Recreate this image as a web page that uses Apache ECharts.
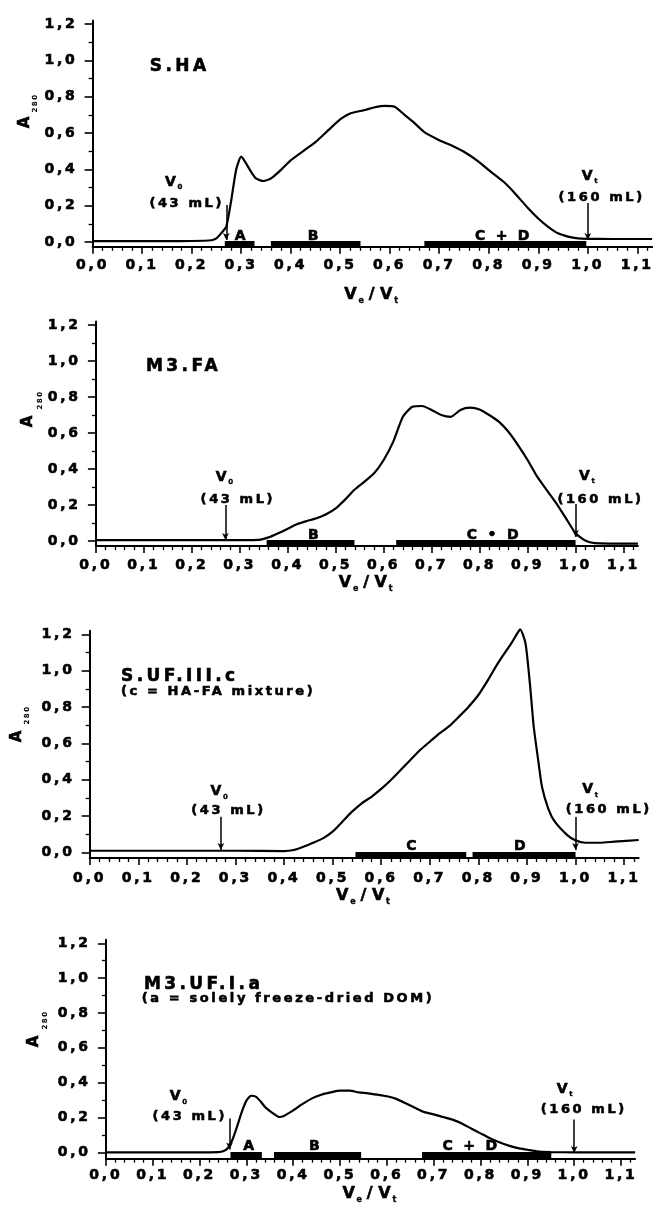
<!DOCTYPE html>
<html><head><meta charset="utf-8">
<script src="https://cdn.jsdelivr.net/npm/echarts@6/dist/echarts.min.js"></script>
<style>html,body{margin:0;padding:0;background:#fff}#c{width:653px;height:1205px}</style>
</head><body><div id="c"></div>
<script>
// ---------- DATA ----------
const xTickValues = [0, 0.1, 0.2, 0.3, 0.4, 0.5, 0.6, 0.7, 0.8, 0.9, 1.0, 1.1];
const xTickLabels = ['0,0','0,1','0,2','0,3','0,4','0,5','0,6','0,7','0,8','0,9','1,0','1,1'];
const yTickValues = [0, 0.2, 0.4, 0.6, 0.8, 1.0, 1.2];
const yTickLabels = ['0,0','0,2','0,4','0,6','0,8','1,0','1,2'];
const yMinorValues = [0.1, 0.3, 0.5, 0.7, 0.9, 1.1];

// Panel 1: S.HA
const shaX = [0,0.05,0.10,0.15,0.20,0.24,0.25,0.26,0.27,0.28,0.29,0.30,0.31,0.32,0.33,0.345,0.36,0.38,0.40,0.43,0.45,0.48,0.50,0.52,0.55,0.57,0.59,0.61,0.63,0.65,0.67,0.70,0.73,0.75,0.78,0.80,0.83,0.85,0.88,0.90,0.92,0.94,0.96,0.98,1.00,1.05,1.13];
const shaY = [0.005,0.005,0.005,0.005,0.006,0.01,0.02,0.05,0.085,0.23,0.40,0.47,0.433,0.387,0.35,0.336,0.35,0.396,0.45,0.51,0.55,0.626,0.675,0.708,0.727,0.742,0.75,0.745,0.70,0.655,0.605,0.561,0.525,0.497,0.442,0.396,0.332,0.277,0.185,0.13,0.084,0.048,0.03,0.02,0.018,0.017,0.017];
// Panel 2: M3.FA
const m3faX = [0,0.1,0.2,0.3,0.34,0.36,0.38,0.40,0.42,0.44,0.46,0.48,0.50,0.52,0.54,0.56,0.58,0.60,0.62,0.64,0.66,0.68,0.70,0.72,0.74,0.76,0.78,0.80,0.82,0.84,0.86,0.88,0.90,0.92,0.94,0.96,0.98,1.00,1.02,1.04,1.13];
const m3faY = [0.005,0.005,0.005,0.005,0.006,0.02,0.043,0.068,0.094,0.111,0.126,0.148,0.181,0.231,0.287,0.33,0.376,0.45,0.552,0.69,0.746,0.75,0.728,0.70,0.69,0.728,0.741,0.731,0.70,0.663,0.607,0.533,0.45,0.357,0.283,0.209,0.126,0.043,0.002,-0.012,-0.015];
// Panel 3: S.UF.III.c
const sufX = [0,0.1,0.2,0.3,0.40,0.42,0.44,0.46,0.48,0.50,0.52,0.54,0.56,0.58,0.60,0.62,0.64,0.66,0.68,0.70,0.72,0.74,0.76,0.78,0.80,0.82,0.84,0.86,0.87,0.88,0.886,0.897,0.906,0.914,0.923,0.931,0.944,0.957,0.983,1.00,1.02,1.05,1.08,1.13];
const sufY = [0.009,0.009,0.009,0.009,0.007,0.013,0.031,0.053,0.077,0.114,0.169,0.224,0.27,0.306,0.349,0.398,0.453,0.508,0.563,0.609,0.655,0.695,0.747,0.802,0.866,0.949,1.04,1.12,1.16,1.205,1.228,1.15,0.93,0.69,0.51,0.36,0.24,0.17,0.095,0.066,0.053,0.053,0.059,0.068];
// Panel 4: M3.UF.I.a
const m3ufX = [0,0.1,0.2,0.24,0.25,0.26,0.27,0.28,0.29,0.30,0.31,0.32,0.33,0.34,0.36,0.37,0.38,0.40,0.42,0.44,0.46,0.48,0.50,0.52,0.54,0.56,0.58,0.60,0.62,0.64,0.66,0.68,0.70,0.72,0.74,0.76,0.78,0.80,0.82,0.84,0.86,0.88,0.90,0.92,0.95,1.00,1.13];
const m3ufY = [0,0,0,0.002,0.006,0.024,0.071,0.147,0.231,0.297,0.325,0.32,0.293,0.26,0.218,0.203,0.209,0.241,0.278,0.31,0.331,0.344,0.354,0.354,0.344,0.339,0.331,0.322,0.307,0.282,0.256,0.231,0.218,0.203,0.188,0.166,0.137,0.109,0.081,0.058,0.039,0.024,0.015,0.006,0.002,0,0];

// Fractions (bars along the baseline)
const frac1Names = ['A','B','C + D'];      const frac1Start = [0.267,0.36,0.67];   const frac1End = [0.327,0.541,0.997]; const frac1LabelX = [0.301,0.448,0.830];
const frac2Names = ['B','C \u2022 D'];     const frac2Start = [0.356,0.626];       const frac2End = [0.539,1.0];         const frac2LabelX = [0.456,0.83];
const frac3Names = ['C','D'];              const frac3Start = [0.547,0.788];       const frac3End = [0.775,1.0];         const frac3LabelX = [0.665,0.888];
const frac4Names = ['A','B','C + D'];      const frac4Start = [0.266,0.359,0.675]; const frac4End = [0.333,0.545,0.951]; const frac4LabelX = [0.308,0.448,0.78];

const titles = ['S.HA', 'M3.FA', 'S.UF.III.c', 'M3.UF.I.a'];
const subtitles = ['', '', '(c = HA-FA mixture)', '(a = solely freeze-dried DOM)'];
const v0Text = '(43 mL)';
const vtText = '(160 mL)';
const v0Pos = [0.27, 0.27, 0.27, 0.264];   // V0 marker on Ve/Vt axis
const vtPos = [1.0, 1.0, 1.0, 1.0];        // Vt marker

// ---------- LAYOUT (pixels / data-space anchors) ----------
const FONT = 'DejaVu Sans';
const L = [
  {grid:{left:92.6, top:20.4, width:560.7, height:226.4}, yMin:-0.026, lblMargin:12, nameGap:40,
   yName:[[25,121],[35,103]], title:[0.1156,0.965], sub:null, barY:-0.009, fracLblY:0.03,
   v0Arrow:[0.204,0.011], vtArrow:[0.215,0.011], v0Lbl:[0.166,0.325], v0Ml:[0.190,0.209], vtLbl:[1.006,0.358], vtMl:[1.028,0.242]},
  {grid:{left:95.9, top:321.4, width:542, height:224.6}, yMin:-0.028, lblMargin:12, nameGap:24,
   yName:[[28,420],[40,400]], title:[0.1045,0.968], sub:null, barY:-0.011, fracLblY:0.033,
   v0Arrow:[0.2,0.005], vtArrow:[0.205,0.022], v0Lbl:[0.27,0.35], v0Ml:[0.296,0.228], vtLbl:[1.026,0.356], vtMl:[1.052,0.232]},
  {grid:{left:89.7, top:630.7, width:549, height:227.3}, yMin:-0.031, lblMargin:13, nameGap:30,
   yName:[[17,735],[27,715]], title:[0.0644,0.970], sub:[0.0644,0.884], barY:-0.011, fracLblY:0.035,
   v0Arrow:[0.196,0.013], vtArrow:[0.194,0.013], v0Lbl:[0.2686,0.328], v0Ml:[0.2857,0.229], vtLbl:[1.0325,0.339], vtMl:[1.0685,0.233]},
  {grid:{left:105.9, top:939.8, width:529.2, height:222.6}, yMin:-0.036, lblMargin:10, nameGap:23,
   yName:[[34,1040],[45,1020]], title:[0.0811,0.965], sub:[0.0767,0.880], barY:-0.016, fracLblY:0.034,
   v0Arrow:[0.194,0.017], vtArrow:[0.188,-0.004], v0Lbl:[0.157,0.316], v0Ml:[0.179,0.203], vtLbl:[0.982,0.357], vtMl:[1.0205,0.244]}
];

// letter spacing like the scanned figure
(function(){
  const P = CanvasRenderingContext2D.prototype;
  const wrap = (f) => function(t, x, y, m){
    const mm = /(\d+(?:\.\d+)?)px/.exec(this.font);
    const s = mm ? parseFloat(mm[1]) : 12;
    try { this.letterSpacing = (s * 0.2).toFixed(1) + 'px'; } catch (e) {}
    return m === undefined ? f.call(this, t, x, y) : f.call(this, t, x, y, m);
  };
  P.fillText = wrap(P.fillText);
  P.strokeText = wrap(P.strokeText);
})();

const curves = [[shaX, shaY], [m3faX, m3faY], [sufX, sufY], [m3ufX, m3ufY]];
const fracs = [
  [frac1Names, frac1Start, frac1End, frac1LabelX],
  [frac2Names, frac2Start, frac2End, frac2LabelX],
  [frac3Names, frac3Start, frac3End, frac3LabelX],
  [frac4Names, frac4Start, frac4End, frac4LabelX]
];
const xMinorValues = [];
for (let i = 1; i <= 56; i++) { if (i % 5 !== 0) xMinorValues.push(+(i * 0.02).toFixed(2)); }

const HEAVY = {color: '#000', opacity: 1, textBorderColor: '#000', textBorderWidth: 0.6};
const fmtFrom = (vals, labels) => v => { const i = vals.findIndex(t => Math.abs(t - v) < 1e-6); return i >= 0 ? labels[i] : ''; };
const subRich = {
  v: Object.assign({fontFamily: FONT, fontWeight: 'bold', fontSize: 14, verticalAlign: 'top', lineHeight: 16}, HEAVY),
  s: Object.assign({fontFamily: FONT, fontWeight: 'bold', fontSize: 7, verticalAlign: 'bottom', lineHeight: 8, padding: [10, 0, 0, 1]}, HEAVY, {textBorderWidth: 0.3})
};
const nameRich = {
  v: Object.assign({fontFamily: FONT, fontWeight: 'bold', fontSize: 16, verticalAlign: 'top', lineHeight: 18}, HEAVY),
  s: Object.assign({fontFamily: FONT, fontWeight: 'bold', fontSize: 8, verticalAlign: 'bottom', lineHeight: 9, padding: [12, 0, 0, 1]}, HEAVY, {textBorderWidth: 0.3})
};

const grid = [], xAxis = [], yAxis = [], series = [], graphic = [];
L.forEach((p, i) => {
  grid.push(p.grid);
  const xa = 2 * i, ya = 2 * i;
  xAxis.push({
    type: 'value', gridIndex: i, position: 'bottom', min: 0, max: 1.13,
    name: '{v|V}{s|e}{v| / }{v|V}{s|t}', nameLocation: 'middle', nameGap: p.nameGap,
    nameTextStyle: {rich: nameRich},
    axisLine: {show: true, onZero: false, lineStyle: {color: '#000', width: 2}},
    axisTick: {show: true, inside: false, length: 7, customValues: xTickValues, lineStyle: {color: '#000', width: 1.6}},
    axisLabel: Object.assign({show: true, customValues: xTickValues, formatter: fmtFrom(xTickValues, xTickLabels), margin: p.lblMargin,
      fontFamily: FONT, fontWeight: 'bold', fontSize: 14}, HEAVY),
    splitLine: {show: false}
  });
  xAxis.push({
    type: 'value', gridIndex: i, position: 'bottom', min: 0, max: 1.13,
    axisLine: {show: false, onZero: false},
    axisTick: {show: true, inside: false, length: 4, customValues: xMinorValues, lineStyle: {color: '#000', width: 1.3}},
    axisLabel: {show: false}, splitLine: {show: false}
  });
  yAxis.push({
    type: 'value', gridIndex: i, position: 'left', min: p.yMin, max: 1.22,
    axisLine: {show: true, onZero: false, lineStyle: {color: '#000', width: 2}},
    axisTick: {show: true, inside: false, length: 8, customValues: yTickValues, lineStyle: {color: '#000', width: 1.6}},
    axisLabel: Object.assign({show: true, customValues: yTickValues, formatter: fmtFrom(yTickValues, yTickLabels), margin: 15,
      fontFamily: FONT, fontWeight: 'bold', fontSize: 14}, HEAVY),
    splitLine: {show: false}
  });
  yAxis.push({
    type: 'value', gridIndex: i, position: 'left', min: p.yMin, max: 1.22,
    axisLine: {show: false, onZero: false},
    axisTick: {show: true, inside: false, length: 4, customValues: yMinorValues, lineStyle: {color: '#000', width: 1.3}},
    axisLabel: {show: false}, splitLine: {show: false}
  });

  const [cx, cy] = curves[i];
  const [fn, fs, fe, fl] = fracs[i];
  const mlData = [];
  fs.forEach((s, k) => {
    mlData.push([{coord: [s, p.barY], lineStyle: {width: 6, color: '#000'}, symbol: 'none'}, {coord: [fe[k], p.barY], symbol: 'none'}]);
  });
  mlData.push([{coord: [v0Pos[i], p.v0Arrow[0]], symbol: 'none', lineStyle: {width: 1.5, color: '#000'}},
               {coord: [v0Pos[i], p.v0Arrow[1]], symbol: 'arrow', symbolSize: [5, 7]}]);
  mlData.push([{coord: [vtPos[i], p.vtArrow[0]], symbol: 'none', lineStyle: {width: 1.5, color: '#000'}},
               {coord: [vtPos[i], p.vtArrow[1]], symbol: 'arrow', symbolSize: [5, 7]}]);

  series.push({
    type: 'line', xAxisIndex: xa, yAxisIndex: ya, showSymbol: false, smooth: 0.2, clip: false,
    data: cx.map((x, k) => [x, cy[k]]),
    lineStyle: {color: '#000', width: 2.2}, itemStyle: {color: '#000'},
    silent: true, z: 3,
    markLine: {silent: true, symbol: ['none', 'none'], label: {show: false}, animation: false,
      lineStyle: {type: 'solid', color: '#000'}, emphasis: {disabled: true}, data: mlData}
  });

  const txt = (x, y, lbl) => ({value: [x, y], label: Object.assign({show: true, fontFamily: FONT, fontWeight: 'bold'}, HEAVY, lbl)});
  const ann = [];
  ann.push(txt(p.title[0], p.title[1], {position: 'right', distance: 0, formatter: titles[i], fontSize: 17}));
  if (p.sub) ann.push(txt(p.sub[0], p.sub[1], {position: 'right', distance: 0, formatter: subtitles[i], fontSize: 13}));
  ann.push(txt(p.v0Lbl[0], p.v0Lbl[1], {position: 'inside', formatter: '{v|V}{s|0}', rich: subRich}));
  ann.push(txt(p.v0Ml[0], p.v0Ml[1], {position: 'inside', formatter: v0Text, fontSize: 13}));
  ann.push(txt(p.vtLbl[0], p.vtLbl[1], {position: 'inside', formatter: '{v|V}{s|t}', rich: subRich}));
  ann.push(txt(p.vtMl[0], p.vtMl[1], {position: 'inside', formatter: vtText, fontSize: 13}));
  fn.forEach((n, k) => ann.push(txt(fl[k], p.fracLblY, {position: 'inside', formatter: n, fontSize: 14})));
  series.push({type: 'scatter', xAxisIndex: xa, yAxisIndex: ya, symbolSize: 0, silent: true, z: 5, clip: false,
    itemStyle: {color: 'transparent', opacity: 1}, data: ann});

  graphic.push({type: 'text', x: p.yName[0][0], y: p.yName[0][1], rotation: Math.PI / 2,
    style: {text: 'A', fill: '#000', stroke: '#000', lineWidth: 0.6, font: 'bold 15px "DejaVu Sans"', align: 'center', verticalAlign: 'middle', textAlign: 'center', textVerticalAlign: 'middle'}});
  graphic.push({type: 'text', x: p.yName[1][0], y: p.yName[1][1], rotation: Math.PI / 2,
    style: {text: '280', fill: '#000', font: 'bold 7px "DejaVu Sans"', align: 'center', verticalAlign: 'middle', textAlign: 'center', textVerticalAlign: 'middle'}});
});

const chart = echarts.init(document.getElementById('c'), null, {renderer: 'canvas'});
chart.setOption({animation: false, backgroundColor: '#fff', grid, xAxis, yAxis, series, graphic});
</script>
</body></html>
